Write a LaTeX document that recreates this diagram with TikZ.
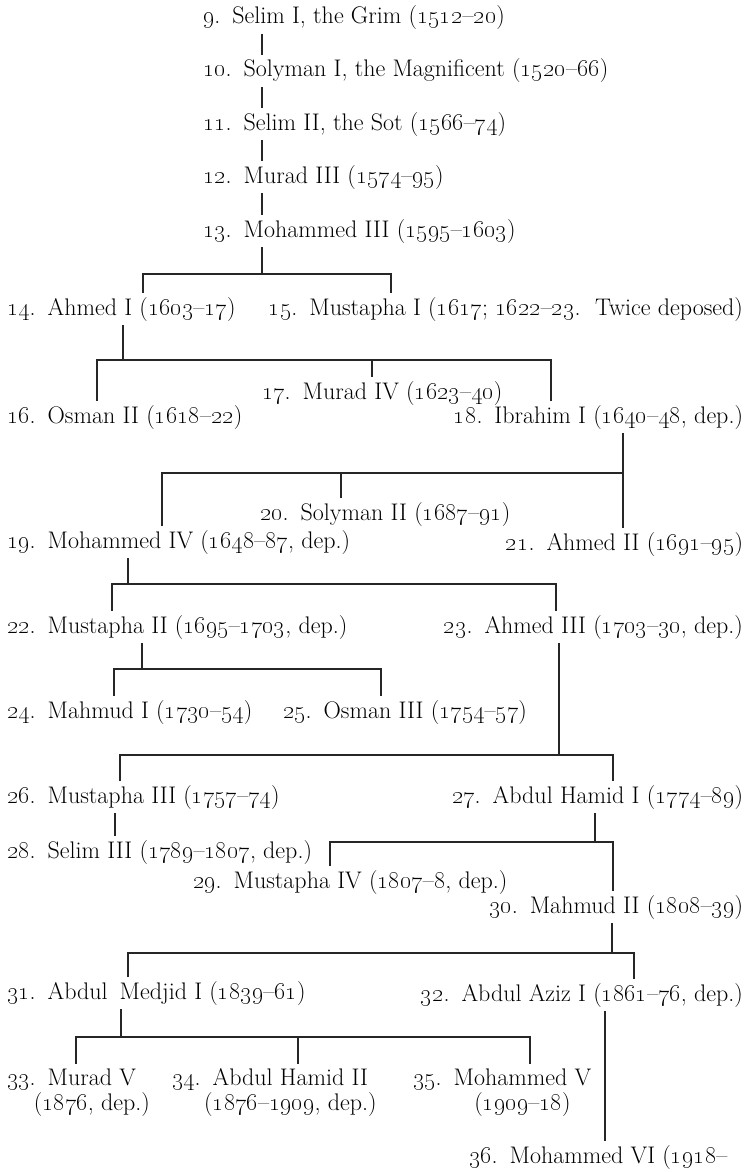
\documentclass[tikz,border=0pt]{standalone}
\usepackage{tikz}
\usetikzlibrary{calc}
\newcommand\osn[1]{\oldstylenums{#1}}

\begin{document}
\begin{tikzpicture}[
    x=1pt, y=-1pt,
    ruler/.style={anchor=base west, inner sep=2pt, outer sep=2pt,
      font=\fontsize{24}{24}\selectfont, align=left},
    rightruler/.style={ruler, anchor=base east},
    link/.style={line width=1.3pt, black!85}
  ]
  \useasboundingbox (0,0) rectangle (752,1172);

  \node[ruler] (n9)  at (199,24)  {\osn{9}.\enspace Selim I, the Grim (\osn{1512}--\osn{20})};
  \node[ruler] (n10) at (199,77)  {\osn{10}.\enspace Solyman I, the Magnificent (\osn{1520}--\osn{66})};
  \node[ruler] (n11) at (199,130) {\osn{11}.\enspace Selim II, the Sot (\osn{1566}--\osn{74})};
  \node[ruler] (n12) at (199,183) {\osn{12}.\enspace Murad III (\osn{1574}--\osn{95})};
  \node[ruler] (n13) at (199,237) {\osn{13}.\enspace Mohammed III (\osn{1595}--\osn{1603})};
  \node[ruler] (n14) at (3,315)   {\osn{14}.\enspace Ahmed I (\osn{1603}--\osn{17})};
  \node[rightruler] (n15) at (747,315) {\osn{15}.\enspace Mustapha I (\osn{1617}; \osn{1622}--\osn{23}.\ \ Twice deposed)};
  \node[ruler] (n16) at (3,423)   {\osn{16}.\enspace Osman II (\osn{1618}--\osn{22})};
  \node[ruler] (n17) at (258,399) {\osn{17}.\enspace Murad IV (\osn{1623}--\osn{40})};
  \node[rightruler] (n18) at (747,423) {\osn{18}.\enspace Ibrahim I (\osn{1640}--\osn{48}, dep.)};
  \node[ruler] (n19) at (3,548)   {\osn{19}.\enspace Mohammed IV (\osn{1648}--\osn{87}, dep.)};
  \node[ruler] (n20) at (256,520) {\osn{20}.\enspace Solyman II (\osn{1687}--\osn{91})};
  \node[rightruler] (n21) at (747,550) {\osn{21}.\enspace Ahmed II (\osn{1691}--\osn{95})};
  \node[ruler] (n22) at (3,633)   {\osn{22}.\enspace Mustapha II (\osn{1695}--\osn{1703}, dep.)};
  \node[rightruler] (n23) at (747,633) {\osn{23}.\enspace Ahmed III (\osn{1703}--\osn{30}, dep.)};
  \node[ruler] (n24) at (3,718)   {\osn{24}.\enspace Mahmud I (\osn{1730}--\osn{54})};
  \node[ruler] (n25) at (279,718) {\osn{25}.\enspace Osman III (\osn{1754}--\osn{57})};
  \node[ruler] (n26) at (3,803)   {\osn{26}.\enspace Mustapha III (\osn{1757}--\osn{74})};
  \node[rightruler] (n27) at (747,803) {\osn{27}.\enspace Abdul Hamid I (\osn{1774}--\osn{89})};
  \node[ruler] (n28) at (3,858)   {\osn{28}.\enspace Selim III (\osn{1789}--\osn{1807}, dep.)};
  \node[ruler] (n29) at (189,888) {\osn{29}.\enspace Mustapha IV (\osn{1807}--\osn{8}, dep.)};
  \node[rightruler] (n30) at (747,913) {\osn{30}.\enspace Mahmud II (\osn{1808}--\osn{39})};
  \node[ruler] (n31) at (3,999)   {\osn{31}.\enspace Abdul\enspace Medjid I (\osn{1839}--\osn{61})};
  \node[rightruler] (n32) at (747,1001) {\osn{32}.\enspace Abdul Aziz I (\osn{1861}--\osn{76}, dep.)};
  \node[ruler] (n33) at (3,1085)  {\osn{33}.\enspace\begin{tabular}[t]{@{}c@{}}Murad V\\\makebox[0pt]{(\osn{1876}, dep.)}\end{tabular}};
  \node[ruler] (n34) at (168,1085) {\osn{34}.\enspace\begin{tabular}[t]{@{}c@{}}Abdul Hamid II\\\makebox[0pt]{(\osn{1876}--\osn{1909}, dep.)}\end{tabular}};
  \node[ruler] (n35) at (409,1085) {\osn{35}.\enspace\begin{tabular}[t]{@{}c@{}}Mohammed V\\\makebox[0pt]{(\osn{1909}--\osn{18})}\end{tabular}};
  \node[ruler] (n36) at (465,1163) {\osn{36}.\enspace Mohammed VI (\osn{1918}--};

  \coordinate (c9) at (262,0);
  \foreach \a/\b in {9/10,10/11,11/12,12/13}
    \draw[link] (n\a.south -| c9) -- (n\b.north -| c9);

  \coordinate (d13) at (262,274);
  \coordinate (k14) at (143,274);
  \coordinate (k15) at (391,274);
  \draw[link] (n13.south -| d13) -- (d13);
  \draw[link] (n14.north -| k14) -- (k14) -- (k15) -- (n15.north -| k15);

  \coordinate (d14) at (123,360);
  \coordinate (k16) at (97,360);
  \coordinate (k17) at (372,360);
  \coordinate (k18) at (551,360);
  \draw[link] (n14.south -| d14) -- (d14);
  \draw[link] (n16.north -| k16) -- (k16) -- (k18) -- (n18.north -| k18);
  \draw[link] (k17) -- (n17.north -| k17);

  \coordinate (d18) at (623,473);
  \coordinate (k19) at (162,473);
  \coordinate (k20) at (341,473);
  \coordinate (k21) at (623,473);
  \draw[link] (n18.south -| d18) -- (d18);
  \draw[link] (n19.north -| k19) -- (k19) -- (k21) -- (n21.north -| k21);
  \draw[link] (k20) -- (n20.north -| k20);

  \coordinate (d19) at (128,584);
  \coordinate (k22) at (112,584);
  \coordinate (k23) at (556,584);
  \draw[link] (n19.south -| d19) -- (d19);
  \draw[link] (n22.north -| k22) -- (k22) -- (k23) -- (n23.north -| k23);

  \coordinate (d22) at (142,669);
  \coordinate (k24) at (114,669);
  \coordinate (k25) at (381,669);
  \draw[link] (n22.south -| d22) -- (d22);
  \draw[link] (n24.north -| k24) -- (k24) -- (k25) -- (n25.north -| k25);

  \coordinate (d23) at (559,755);
  \coordinate (k26) at (120,755);
  \coordinate (k27) at (613,755);
  \draw[link] (n23.south -| d23) -- (d23);
  \draw[link] (n26.north -| k26) -- (k26) -- (k27) -- (n27.north -| k27);

  \coordinate (c26) at (115,0);
  \draw[link] (n26.south -| c26) -- (n28.north -| c26);

  \coordinate (d27) at (595,842);
  \coordinate (k29) at (330,842);
  \coordinate (k30) at (613,842);
  \draw[link] (n27.south -| d27) -- (d27);
  \draw[link] (n29.north -| k29) -- (k29) -- (k30) -- (n30.north -| k30);

  \coordinate (d30) at (612,953);
  \coordinate (k31) at (128,953);
  \coordinate (k32) at (634,953);
  \draw[link] (n30.south -| d30) -- (d30);
  \draw[link] (n31.north -| k31) -- (k31) -- (k32) -- (n32.north -| k32);

  \coordinate (d31) at (121,1037);
  \coordinate (k33) at (76,1037);
  \coordinate (k34) at (298,1037);
  \coordinate (k35) at (530,1037);
  \draw[link] (n31.south -| d31) -- (d31);
  \draw[link] (n33.north -| k33) -- (k33) -- (k35) -- (n35.north -| k35);
  \draw[link] (k34) -- (n34.north -| k34);

  \coordinate (c32) at (605,0);
  \draw[link] (n32.south -| c32) -- (n36.north -| c32);
\end{tikzpicture}
\end{document}
